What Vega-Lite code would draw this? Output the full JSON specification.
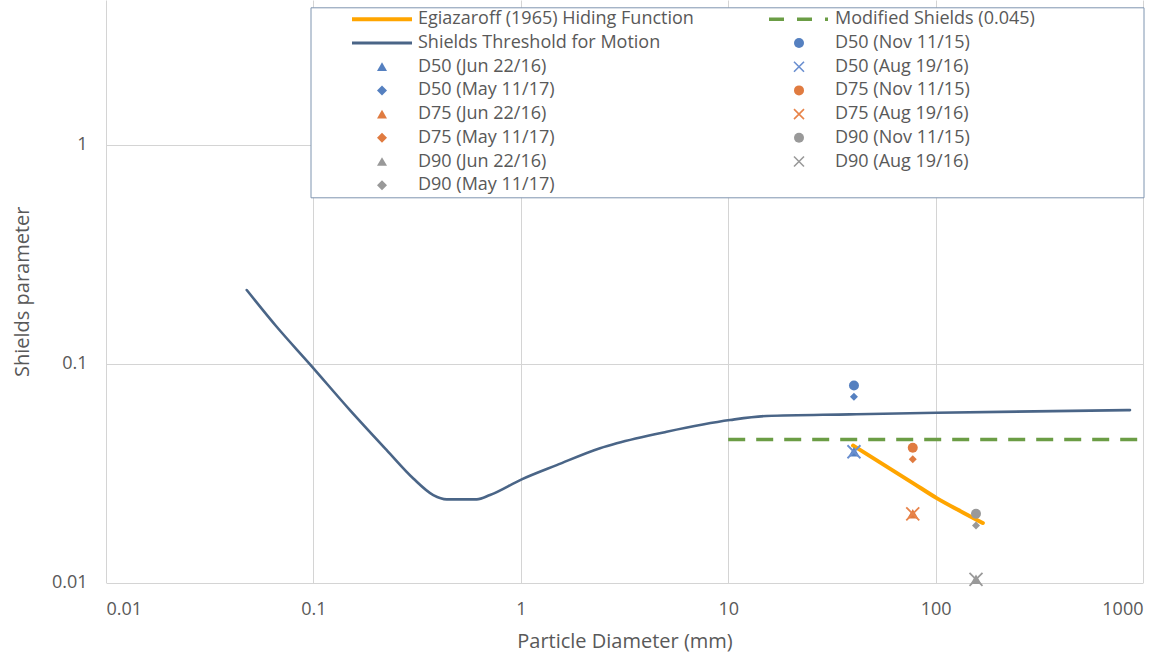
{
  "$schema": "https://vega.github.io/schema/vega-lite/v6.json",
  "width": 1037,
  "height": 582.5,
  "autosize": {"type": "none"},
  "padding": {"left": 106, "top": 0, "right": 33, "bottom": 73.5},
  "background": "white",
  "config": {
    "font": "Open Sans",
    "view": {"stroke": null},
    "axis": {
      "domain": false,
      "ticks": false,
      "grid": true,
      "gridColor": "#d4d4d4",
      "gridWidth": 1,
      "labelFont": "Open Sans",
      "labelFontSize": 18,
      "labelColor": "#595959",
      "titleFont": "Open Sans",
      "titleFontSize": 20,
      "titleFontWeight": "normal",
      "titleColor": "#595959"
    }
  },
  "data": {
    "values": [
      {"series": "Shields Threshold for Motion", "d": 0.0477, "tau": 0.2172},
      {"series": "Shields Threshold for Motion", "d": 0.0665, "tau": 0.1476},
      {"series": "Shields Threshold for Motion", "d": 0.0963, "tau": 0.0994},
      {"series": "Shields Threshold for Motion", "d": 0.150, "tau": 0.0614},
      {"series": "Shields Threshold for Motion", "d": 0.2256, "tau": 0.0403},
      {"series": "Shields Threshold for Motion", "d": 0.3032, "tau": 0.0299},
      {"series": "Shields Threshold for Motion", "d": 0.3785, "tau": 0.0251},
      {"series": "Shields Threshold for Motion", "d": 0.4393, "tau": 0.0240},
      {"series": "Shields Threshold for Motion", "d": 0.613, "tau": 0.0240},
      {"series": "Shields Threshold for Motion", "d": 0.7104, "tau": 0.0251},
      {"series": "Shields Threshold for Motion", "d": 1.010, "tau": 0.0296},
      {"series": "Shields Threshold for Motion", "d": 1.490, "tau": 0.0344},
      {"series": "Shields Threshold for Motion", "d": 2.409, "tau": 0.0411},
      {"series": "Shields Threshold for Motion", "d": 2.900, "tau": 0.0433},
      {"series": "Shields Threshold for Motion", "d": 5.05, "tau": 0.0489},
      {"series": "Shields Threshold for Motion", "d": 10.2, "tau": 0.0553},
      {"series": "Shields Threshold for Motion", "d": 15.3, "tau": 0.0577},
      {"series": "Shields Threshold for Motion", "d": 38.6, "tau": 0.0587},
      {"series": "Shields Threshold for Motion", "d": 101.2, "tau": 0.0597},
      {"series": "Shields Threshold for Motion", "d": 865.6, "tau": 0.0614},
      {"series": "Egiazaroff (1965) Hiding Function", "d": 40.0, "tau": 0.0423},
      {"series": "Egiazaroff (1965) Hiding Function", "d": 78.1, "tau": 0.0284},
      {"series": "Egiazaroff (1965) Hiding Function", "d": 101.2, "tau": 0.0243},
      {"series": "Egiazaroff (1965) Hiding Function", "d": 136, "tau": 0.02085},
      {"series": "Egiazaroff (1965) Hiding Function", "d": 169, "tau": 0.0187},
      {"series": "Modified Shields (0.045)", "d": 10, "tau": 0.045},
      {"series": "Modified Shields (0.045)", "d": 1000, "tau": 0.045},
      {"series": "D50 (Nov 11/15)", "d": 40.4, "tau": 0.0795},
      {"series": "D50 (Jun 22/16)", "d": 40.4, "tau": 0.0396},
      {"series": "D50 (Aug 19/16)", "d": 40.4, "tau": 0.0396},
      {"series": "D50 (May 11/17)", "d": 40.4, "tau": 0.0707},
      {"series": "D75 (Nov 11/15)", "d": 77.6, "tau": 0.0413},
      {"series": "D75 (Jun 22/16)", "d": 77.6, "tau": 0.0206},
      {"series": "D75 (Aug 19/16)", "d": 77.6, "tau": 0.0206},
      {"series": "D75 (May 11/17)", "d": 77.6, "tau": 0.0366},
      {"series": "D90 (Nov 11/15)", "d": 156.6, "tau": 0.0206},
      {"series": "D90 (Jun 22/16)", "d": 156.6, "tau": 0.01034},
      {"series": "D90 (Aug 19/16)", "d": 156.6, "tau": 0.01034},
      {"series": "D90 (May 11/17)", "d": 156.6, "tau": 0.0182}
    ]
  },
  "encoding": {
    "x": {
      "field": "d",
      "type": "quantitative",
      "scale": {"type": "log", "domain": [0.01, 1000], "nice": false, "zero": false},
      "axis": {"values": [0.01, 0.1, 1, 10, 100, 1000], "format": "~g", "title": "Particle Diameter (mm)", "labelPadding": 17.7, "titlePadding": 13}
    },
    "y": {
      "field": "tau",
      "type": "quantitative",
      "scale": {"type": "log", "domain": [0.01, 4.6], "nice": false, "zero": false},
      "axis": {"values": [0.01, 0.1, 1], "format": "~g", "title": "Shields parameter", "labelPadding": 19, "titlePadding": 19}
    }
  },
  "layer": [
    {
      "transform": [{"filter": "datum.series === 'Egiazaroff (1965) Hiding Function'"}],
      "mark": {"type": "line", "color": "#ffa500", "strokeWidth": 4, "interpolate": "monotone", "strokeCap": "round"}
    },
    {
      "transform": [{"filter": "datum.series === 'Modified Shields (0.045)'"}],
      "mark": {"type": "line", "color": "#6b9d45", "strokeWidth": 3.5, "strokeDash": [17, 11]}
    },
    {
      "transform": [{"filter": "datum.series === 'Shields Threshold for Motion'"}],
      "mark": {"type": "line", "color": "#4a6587", "strokeWidth": 2.6, "interpolate": "monotone", "strokeCap": "round"}
    },
    {
      "encoding": {
        "fill": {
          "field": "series", "type": "nominal",
          "scale": {
            "domain": ["Egiazaroff (1965) Hiding Function", "Shields Threshold for Motion", "D50 (Jun 22/16)", "D50 (May 11/17)", "D75 (Jun 22/16)", "D75 (May 11/17)", "D90 (Jun 22/16)", "D90 (May 11/17)", "Modified Shields (0.045)", "D50 (Nov 11/15)", "D50 (Aug 19/16)", "D75 (Nov 11/15)", "D75 (Aug 19/16)", "D90 (Nov 11/15)", "D90 (Aug 19/16)"],
            "range": ["#ffa500", "#4a6587", "#5580c0", "#5580c0", "#e07b40", "#e07b40", "#999999", "#999999", "#6b9d45", "#5580c0", "transparent", "#e07b40", "transparent", "#999999", "transparent"]
          },
          "legend": {"title": " ", "orient": "none", "legendX": 204.5, "legendY": 7.3, "columns": 2, "columnPadding": 36, "rowPadding": 5.7, "padding": 3, "symbolOffset": 59.5, "labelOffset": 27, "symbolSize": 100, "symbolStrokeWidth": 1.6, "symbolOpacity": 1, "labelFont": "Open Sans", "labelFontSize": 18, "labelColor": "#595959", "labelLimit": 400, "strokeColor": "#7f95b0", "fillColor": "white", "titleOrient": "right", "titlePadding": 106, "titleFontSize": 18}
        },
        "stroke": {
          "field": "series", "type": "nominal",
          "scale": {
            "domain": ["Egiazaroff (1965) Hiding Function", "Shields Threshold for Motion", "D50 (Jun 22/16)", "D50 (May 11/17)", "D75 (Jun 22/16)", "D75 (May 11/17)", "D90 (Jun 22/16)", "D90 (May 11/17)", "Modified Shields (0.045)", "D50 (Nov 11/15)", "D50 (Aug 19/16)", "D75 (Nov 11/15)", "D75 (Aug 19/16)", "D90 (Nov 11/15)", "D90 (Aug 19/16)"],
            "range": ["transparent", "transparent", "transparent", "transparent", "transparent", "transparent", "transparent", "transparent", "transparent", "transparent", "#6a8fd0", "transparent", "#e8844a", "transparent", "#9a9a9a"]
          },
          "legend": {"title": " ", "orient": "none", "legendX": 204.5, "legendY": 7.3, "columns": 2, "columnPadding": 36, "rowPadding": 5.7, "padding": 3, "symbolOffset": 59.5, "labelOffset": 27, "symbolSize": 100, "symbolStrokeWidth": 1.6, "symbolOpacity": 1, "labelFont": "Open Sans", "labelFontSize": 18, "labelColor": "#595959", "labelLimit": 400, "strokeColor": "#7f95b0", "fillColor": "white", "titleOrient": "right", "titlePadding": 106, "titleFontSize": 18}
        },
        "shape": {
          "field": "series", "type": "nominal",
          "scale": {
            "domain": ["Egiazaroff (1965) Hiding Function", "Shields Threshold for Motion", "D50 (Jun 22/16)", "D50 (May 11/17)", "D75 (Jun 22/16)", "D75 (May 11/17)", "D90 (Jun 22/16)", "D90 (May 11/17)", "Modified Shields (0.045)", "D50 (Nov 11/15)", "D50 (Aug 19/16)", "D75 (Nov 11/15)", "D75 (Aug 19/16)", "D90 (Nov 11/15)", "D90 (Aug 19/16)"],
            "range": ["M-6,-0.4L6,-0.4L6,0.4L-6,0.4Z", "M-6,-0.3L6,-0.3L6,0.3L-6,0.3Z", "triangle-up", "diamond", "triangle-up", "diamond", "triangle-up", "diamond", "M-6,-0.35L-3,-0.35L-3,0.35L-6,0.35Z M-0.4,-0.35L2.6,-0.35L2.6,0.35L-0.4,0.35Z M5.2,-0.35L5.8,-0.35L5.8,0.35L5.2,0.35Z", "circle", "M-1,-1L1,1M-1,1L1,-1", "circle", "M-1,-1L1,1M-1,1L1,-1", "circle", "M-1,-1L1,1M-1,1L1,-1"]
          },
          "legend": {"title": " ", "orient": "none", "legendX": 204.5, "legendY": 7.3, "columns": 2, "columnPadding": 36, "rowPadding": 5.7, "padding": 3, "symbolOffset": 59.5, "labelOffset": 27, "symbolSize": 100, "symbolStrokeWidth": 1.6, "symbolOpacity": 1, "labelFont": "Open Sans", "labelFontSize": 18, "labelColor": "#595959", "labelLimit": 400, "strokeColor": "#7f95b0", "fillColor": "white", "titleOrient": "right", "titlePadding": 106, "titleFontSize": 18}
        }
      },
      "layer": [
        {
          "transform": [{"filter": "indexof(datum.series, 'Nov') >= 0"}],
          "mark": {"type": "point", "filled": true, "size": 100, "opacity": 1}
        },
        {
          "transform": [{"filter": "indexof(datum.series, 'Jun') >= 0"}],
          "mark": {"type": "point", "filled": true, "size": 121, "opacity": 1}
        },
        {
          "transform": [{"filter": "indexof(datum.series, 'Aug') >= 0"}],
          "mark": {"type": "point", "filled": false, "size": 169, "opacity": 1, "strokeWidth": 1.8}
        },
        {
          "transform": [{"filter": "indexof(datum.series, 'May') >= 0"}],
          "mark": {"type": "point", "filled": true, "size": 64, "opacity": 1}
        }
      ]
    }
  ]
}
